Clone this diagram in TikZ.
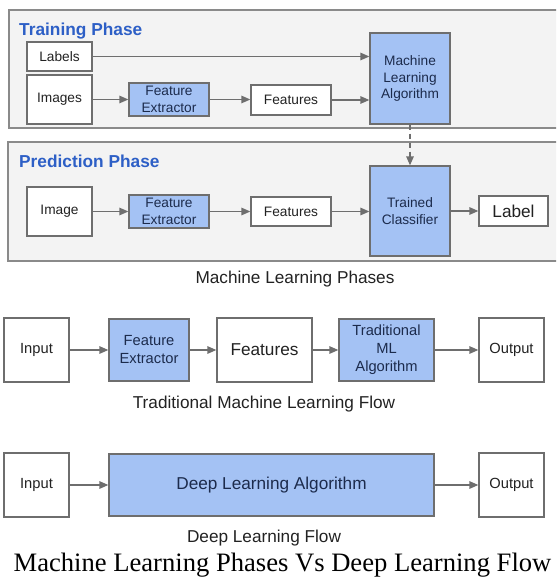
\documentclass[tikz,border=0pt]{standalone}
\usepackage{fontspec}
\setmainfont{Liberation Sans}
\newfontfamily\titleserif{Liberation Serif}
\usetikzlibrary{arrows.meta}
\definecolor{boxblue}{HTML}{A4C2F4}
\definecolor{panelfill}{HTML}{F3F3F3}
\definecolor{panelline}{HTML}{8A8A8A}
\definecolor{boxline}{HTML}{6E6E6E}
\definecolor{arrowgray}{HTML}{6E6E6E}
\definecolor{headblue}{HTML}{2D5FC6}
\definecolor{navytext}{HTML}{1C2B4C}
\definecolor{txt}{HTML}{222222}
\begin{document}
\begin{tikzpicture}[
  panel/.style={draw=panelline, fill=panelfill, line width=1.3pt},
  wbox/.style={draw=boxline, fill=white, line width=1.3pt, inner sep=0pt, align=center, text=txt},
  bbox/.style={draw=boxline, fill=boxblue, line width=1.3pt, inner sep=0pt, align=center, text=navytext},
  fs/.style={font=\fontsize{13.7}{16.5}\selectfont},
  fm/.style={font=\fontsize{14.7}{18}\selectfont},
  fl/.style={font=\fontsize{17.2}{20}\selectfont},
  phase/.style={font=\bfseries\fontsize{17.3}{20}\selectfont, text=headblue, anchor=base west, inner sep=0pt},
  caption/.style={font=\fontsize{17.2}{20}\selectfont, text=txt, anchor=base, inner sep=0pt},
  flow/.style={draw=arrowgray, line width=1.4pt, -{Triangle[length=9pt,width=7.5pt]}},
  dflow/.style={flow, dash pattern=on 5pt off 4pt}
]
\useasboundingbox (0,0) rectangle (556pt,-577pt);
\fill[white] (0,0) rectangle (556pt,-577pt);
\begin{scope}[x=1pt,y=1pt]
\clip (0,0) rectangle (556,-577);
% panels
\draw[panel] (9,-10) rectangle (566,-128);
\draw[panel] (8,-142) rectangle (566,-261);
\node[phase] (tph) at (19,-36) {Training Phase};
\node[phase] (pph) at (19,-168) {Prediction Phase};
% training
\node[wbox,fs,minimum width=65pt,minimum height=29pt] (lab) at (59.5,-56.5) {Labels};
\node[wbox,fs,minimum width=65pt,minimum height=49pt] (img) at (59.5,-99.5) {Images};
\node[bbox,fs,minimum width=80pt,minimum height=33pt] (fe1) at (169,-99.5) {Feature\\Extractor};
\node[wbox,fs,minimum width=80pt,minimum height=30pt] (ft1) at (291,-100) {Features};
\node[bbox,fs,minimum width=80pt,minimum height=91pt] (mla) at (410,-78.5) {Machine\\Learning\\Algorithm};
% prediction
\node[wbox,fs,minimum width=65pt,minimum height=49pt] (img2) at (59.5,-211.5) {Image};
\node[bbox,fs,minimum width=80pt,minimum height=33pt] (fe2) at (169,-211.5) {Feature\\Extractor};
\node[wbox,fs,minimum width=80pt,minimum height=29pt] (ft2) at (291,-211.5) {Features};
\node[bbox,fs,minimum width=80pt,minimum height=90pt] (tc) at (410,-211) {Trained\\Classifier};
\node[wbox,fl,minimum width=69pt,minimum height=30pt] (lb) at (513.5,-211) {Label};
\node[caption] (cap1) at (295,-283) {Machine Learning Phases};
% traditional
\node[wbox,fm,minimum width=65pt,minimum height=64pt] (in1) at (36.5,-350) {Input};
\node[bbox,fm,minimum width=80pt,minimum height=62pt] (fe3) at (149,-350) {Feature\\Extractor};
\node[wbox,fl,minimum width=95pt,minimum height=64pt] (ft3) at (264.5,-350) {Features};
\node[bbox,fm,minimum width=95pt,minimum height=62pt] (tml) at (386.5,-350) {Traditional\\ML\\Algorithm};
\node[wbox,fm,minimum width=65pt,minimum height=64pt] (out1) at (511.5,-350) {Output};
\node[caption] (cap2) at (264,-408) {Traditional Machine Learning Flow};
% deep
\node[wbox,fm,minimum width=65pt,minimum height=64pt] (in2) at (36.5,-485) {Input};
\node[bbox,fl,minimum width=325pt,minimum height=62pt] (dla) at (271.5,-485) {Deep Learning Algorithm};
\node[wbox,fm,minimum width=65pt,minimum height=64pt] (out2) at (511.5,-485) {Output};
\node[caption] (cap3) at (264,-542) {Deep Learning Flow};
\node[font=\titleserif\fontsize{26.6}{30}\selectfont, anchor=base, inner sep=0pt] (ttl) at (282.5,-571) {Machine Learning Phases Vs Deep Learning Flow};
% arrows training
\draw[flow] (lab.east) -- (lab.east -| mla.west);
\draw[flow] (img.east) -- (fe1.west);
\draw[flow] (fe1.east) -- (fe1.east -| ft1.west);
\draw[flow] (ft1.east) -- (ft1.east -| mla.west);
\draw[dflow] (mla.south) -- (tc.north);
% arrows prediction
\draw[flow] (img2.east) -- (fe2.west);
\draw[flow] (fe2.east) -- (ft2.west);
\draw[flow] (ft2.east) -- (ft2.east -| tc.west);
\draw[flow] (tc.east) -- (lb.west);
% arrows traditional
\draw[flow] (in1.east) -- (fe3.west);
\draw[flow] (fe3.east) -- (ft3.west);
\draw[flow] (ft3.east) -- (tml.west);
\draw[flow] (tml.east) -- (out1.west);
% arrows deep
\draw[flow] (in2.east) -- (dla.west);
\draw[flow] (dla.east) -- (out2.west);
\end{scope}
\end{tikzpicture}
\end{document}
